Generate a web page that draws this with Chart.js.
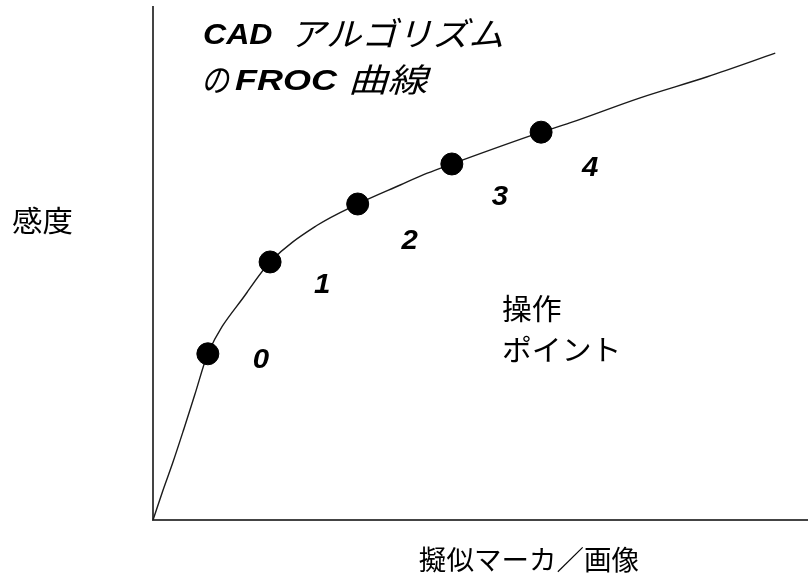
<!DOCTYPE html>
<html>
<head>
<meta charset="utf-8">
<script src="https://cdn.jsdelivr.net/npm/chart.js@4"></script>
<style>
  html, body { margin: 0; padding: 0; background: #fff; }
  #wrap { width: 808px; height: 579px; }
</style>
</head>
<body>
<div id="wrap"><canvas id="froc-chart"></canvas></div>
<script>
// FROC curve: false marks per image (x) against sensitivity (y)
const curveFp   = [0, 0.12, 0.24, 0.38, 0.51, 0.67, 1.15, 1.43, 2.00, 2.50, 3.02, 3.35, 3.65, 4.74, 5.09, 5.95, 6.77, 7.60];
const curveSens = [0, 0.057, 0.111, 0.179, 0.244, 0.324, 0.444, 0.503, 0.574, 0.616, 0.653, 0.676, 0.694, 0.756, 0.774, 0.823, 0.864, 0.910];

// operating points on the curve
const pointLabels = ['0', '1', '2', '3', '4'];
const pointFp     = [0.67, 1.43, 2.50, 3.65, 4.74];
const pointSens   = [0.324, 0.503, 0.616, 0.694, 0.756];

// where each number sits relative to its point (px)
const labelOffsets = [[53, 4], [52, 21], [52, 35], [48, 31], [49, 34]];

const JP = "'Noto Sans CJK JP', sans-serif";
const LAT = "'Liberation Sans', Arial, sans-serif";

function drawText(ctx, text, x, y, font, sx, align) {
    ctx.save();
    ctx.font = font;
    ctx.textAlign = align || 'left';
    ctx.textBaseline = 'alphabetic';
    ctx.translate(x, y);
    ctx.scale(sx, 1);
    ctx.fillText(text, 0, 0);
    ctx.restore();
}

const textPlugin = {
    id: 'frocText',
    afterDraw(chart) {
        const ctx = chart.ctx;
        const xs = chart.scales.x, ys = chart.scales.y;
        ctx.fillStyle = '#000';

        // title
        drawText(ctx, 'CAD', 203, 44, 'italic bold 30px ' + LAT, 1.07);
        drawText(ctx, 'アルゴリズム', 290, 46, 'italic 33px ' + JP, 1.08);
        drawText(ctx, 'の', 201, 92, 'italic 33px ' + JP, 0.85);
        drawText(ctx, 'FROC', 235, 90, 'italic bold 30px ' + LAT, 1.2);
        drawText(ctx, '曲線', 348, 92, 'italic 33px ' + JP, 1.2);

        // axis labels
        drawText(ctx, '感度', 12, 232, '29px ' + JP, 1.05);
        drawText(ctx, '擬似マーカ／画像', 529, 570, '27px ' + JP, 1.02, 'center');

        drawText(ctx, '操作', 502, 320, '29px ' + JP, 1.03);
        drawText(ctx, 'ポイント', 502, 361, '29px ' + JP, 1.03);

        // operating point numbers
        pointLabels.forEach((lbl, i) => {
            const px = xs.getPixelForValue(pointFp[i]) + labelOffsets[i][0];
            const py = ys.getPixelForValue(pointSens[i]) + labelOffsets[i][1] + 10;
            drawText(ctx, lbl, px, py, 'italic bold 28px ' + LAT, 1.05, 'center');
        });
    }
};

const ctx = document.getElementById('froc-chart').getContext('2d');
const frocChart = new Chart(ctx, {
    type: 'scatter',
    data: {
        datasets: [
            {
                label: 'FROC',
                data: curveFp.map((x, i) => ({ x: x, y: curveSens[i] })),
                showLine: true,
                borderColor: '#1a1a1a',
                borderWidth: 1.4,
                pointRadius: 0,
                cubicInterpolationMode: 'monotone',
                clip: false,
                order: 2,
            },
            {
                label: 'operating points',
                data: pointFp.map((x, i) => ({ x: x, y: pointSens[i] })),
                backgroundColor: '#000',
                borderColor: '#000',
                pointRadius: 11,
                pointHoverRadius: 11,
                clip: false,
                order: 1,
            },
        ],
    },
    options: {
        responsive: true,
        maintainAspectRatio: false,
        animation: false,
        layout: { autoPadding: false, padding: { left: 153, right: 0, top: 7, bottom: 59 } },
        plugins: { legend: { display: false }, tooltip: { enabled: false } },
        scales: {
            x: {
                type: 'linear', min: 0, max: 8,
                grid: { display: false, drawTicks: false },
                ticks: { display: false },
                border: { color: '#444', width: 2 },
            },
            y: {
                type: 'linear', min: 0, max: 1,
                grid: { display: false, drawTicks: false },
                ticks: { display: false },
                border: { color: '#444', width: 2 },
            },
        },
    },
    plugins: [textPlugin],
});
</script>
</body>
</html>
